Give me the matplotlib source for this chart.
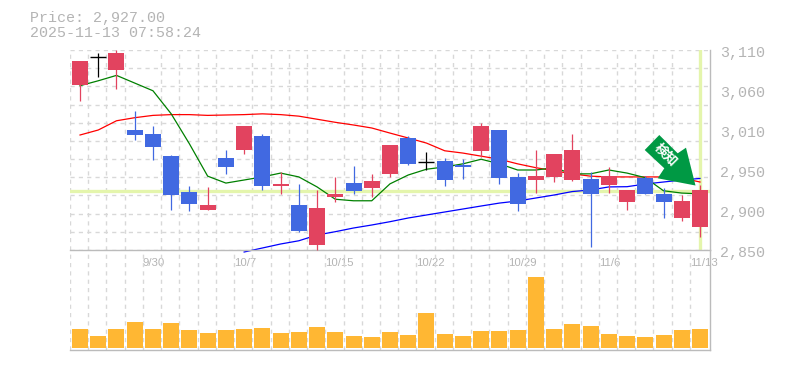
import numpy as np
from matplotlib import pyplot as plt
from matplotlib.patches import Polygon
from matplotlib.transforms import Affine2D

plt.rcParams['font.family'] = ['Liberation Mono', 'DejaVu Sans Mono']

# Data
opens = [3064.5, 3100.5, 3084, 3006, 3000.8, 2972, 2925.4, 2902, 2969.6, 2980, 2998, 2933, 2908.5, 2856.5, 2918.9,
         2937, 2930.6, 2948.8, 2995.6, 2964, 2965.7, 2960.5, 2978.7, 3006, 2944.9, 2941, 2944.9, 2941, 2942.3,
         2934.5, 2912.4, 2943.6, 2922.8, 2891.6, 2879.9]
closes = [3095.7, 3100.5, 3106, 2999.5, 2983.9, 2921.5, 2909.8, 2908.5, 2957.9, 3011, 2933, 2935.8, 2874.7, 2904.6, 2922.8,
          2926.7, 2939.7, 2986.5, 2961.8, 2964, 2941, 2957.9, 3011, 2943.6, 2909.8, 2946.2, 2974.8, 2980, 2922.8,
          2946.2, 2928, 2922.8, 2912.4, 2913.7, 2928]
highs = [3095.7, 3105.7, 3110, 3030.7, 3011, 2973.5, 2933, 2932, 2980, 3011, 3000.8, 2951, 2935.8, 2928, 2944.9,
         2959, 2948.8, 2986.5, 2998, 2977.4, 2969.6, 2968.3, 3015, 3006, 2950, 2980, 2974.8, 3000.8, 2951,
         2957.9, 2928, 2946.2, 2930.6, 2921.5, 2934.5]
lows = [3044, 3075.3, 3059.7, 2993, 2967, 2902, 2901, 2902, 2948.8, 2974.8, 2928, 2922.8, 2873.4, 2850, 2912.4,
        2922.8, 2918.9, 2944.9, 2960.5, 2954, 2933, 2942.3, 2970.9, 2935.8, 2900.7, 2924, 2938.4, 2939.7, 2854,
        2924, 2902, 2922.8, 2891.6, 2887.7, 2866.9]

ma_short = [3063.6, 3070, 3077, 3067, 3057, 3027, 2988, 2946, 2937, 2941, 2945, 2950, 2945, 2932, 2916, 2914, 2914,
            2936, 2947.5, 2955, 2958, 2962, 2968, 2962, 2954, 2954, 2957, 2949, 2949, 2954, 2950, 2944, 2927, 2924, 2923]
ma_mid = [2999.5, 3006, 3018, 3022, 3025, 3026, 3026, 3025, 3025.5, 3026, 3027, 3026, 3024, 3020, 3016, 3012.5, 3008.6,
          3002, 2995.6, 2989, 2979, 2976, 2972, 2968, 2962, 2957, 2953, 2949, 2946, 2945, 2945, 2945, 2945, 2943.6, 2938.4]
ma_long = [np.nan] * 9 + [2847.4, 2852.6, 2857.8, 2862, 2869.5, 2873.8, 2878.6, 2882.5, 2886.8, 2891.6, 2895.5, 2899.4,
                          2903.3, 2907.2, 2911, 2913.7, 2917.6, 2921.5, 2926, 2928, 2932, 2932.3, 2935.8, 2938.4, 2941, 2943]

volumes = [19, 12, 19, 26, 19, 25, 18, 15, 18, 19, 20, 15, 16, 21, 16, 12, 11, 16,
           13, 35, 14, 12, 17, 17, 18, 71, 19, 24, 22, 14, 12, 11, 13, 18, 19]

date_pos = [4, 9, 14, 19, 24, 29, 34]
date_labels = ['9/30', '10/7', '10/15', '10/22', '10/29', '11/6', '11/13']
price_ticks = [2850, 2902, 2954, 3006, 3058, 3110]
price_labels = ['2,850', '2,900', '2,950', '3,010', '3,060', '3,110']
last_price = 2927

W, H = 785, 370
UP = '#E2435F'
DOWN = '#4169E1'
GRID = '#D8D8D8'
AXIS = '#BBBBBB'
TEXT = '#B4B4B4'
LIME = '#E4F5AC'
dash = (0, (3, 3))
x = np.arange(len(opens))
edge = 0.55  # room left of the first candle, in candle steps
bar_w = 16 / (640 / 35.1)

fig = plt.figure(figsize=(W / 100, H / 100), dpi=100)
ax = fig.add_axes([70 / W, (H - 250) / H, 640 / W, 200 / H])
vol = fig.add_axes([70 / W, (H - 350) / H, 640 / W, 100 / H])

# Price panel
ax.set_xlim(-edge, 34 + edge)
ax.set_ylim(2850, 3110)
ax.set_axisbelow(True)
ax.set_xticks(np.array(date_pos) - edge)
ax.set_xticklabels(date_labels, fontsize=8.2, color=TEXT, ha='left', family='Liberation Sans')
ax.set_xticks(x - edge, minor=True)
ax.set_yticks([])
ax.set_yticks(np.linspace(2850, 3110, 12), minor=True)
ax.tick_params(axis='both', which='both', length=0)
ax.tick_params(axis='x', pad=5.5)
ax.grid(True, which='minor', color=GRID, lw=1, linestyle=dash)
for s in ['left', 'top']:
    ax.spines[s].set_visible(False)
for s in ['right', 'bottom']:
    ax.spines[s].set_color(AXIS)
    ax.spines[s].set_linewidth(1)

# right hand labels sit 3px under their level
for p, lab in zip(price_ticks, price_labels):
    ax.annotate(lab, xy=(1, p), xycoords=('axes fraction', 'data'), xytext=(10, -3), textcoords='offset pixels',
                fontsize=10.8, color=TEXT, va='center', ha='left', annotation_clip=False)

ax.axhline(last_price, color=LIME, lw=2.4, zorder=1.5)
ax.axvline(34, color=LIME, lw=2.4, zorder=1.5)

ax.plot(x, ma_mid, color='#FF0000', lw=0.9, zorder=2)
ax.plot(x, ma_long, color='#0000FF', lw=0.9, zorder=2, clip_on=False)
ax.plot(x, ma_short, color='#008000', lw=0.9, zorder=2)

for i in x:
    o, c = opens[i], closes[i]
    if o == c:
        ax.vlines(i, lows[i], highs[i], color='black', lw=0.9, zorder=3)
        ax.hlines(o, i - bar_w / 2, i + bar_w / 2, color='black', lw=1, zorder=3)
        continue
    col = UP if c > o else DOWN
    ax.vlines(i, lows[i], highs[i], color=col, lw=0.9, zorder=3, clip_on=False)
    ax.bar(i, abs(c - o), bottom=min(o, c), width=bar_w, color=col, zorder=3.1)

# Volume panel
vol.bar(x, volumes, width=bar_w, color='#FFB733', zorder=3)
vol.set_xlim(-edge, 34 + edge)
vol.set_ylim(-2, 98)
vol.set_axisbelow(True)
vol.set_yticks([])
vol.set_xticks(x - edge)
vol.set_xticklabels([])
vol.tick_params(axis='x', length=0)
vol.grid(True, axis='x', color=GRID, lw=1, linestyle=dash)
for s in ['left', 'top']:
    vol.spines[s].set_visible(False)
for s in ['right', 'bottom']:
    vol.spines[s].set_color(AXIS)
    vol.spines[s].set_linewidth(1)
vol.patch.set_alpha(0)

# Header text
fig.text(30 / W, 1 - 18 / H, 'Price: 2,927.00', fontsize=10.8, color=TEXT, va='center')
fig.text(30 / W, 1 - 33 / H, '2025-11-13 07:58:24', fontsize=10.8, color=TEXT, va='center')

# Signal arrow, in pixels from the top left of the picture
to_px = Affine2D().scale(1, -1).translate(0, H)
arrow = [(659.3, 135), (644.7, 150), (664.3, 168.3), (657.7, 178.3), (695.5, 185.5), (686, 147.7), (677.7, 153.3)]
fig.add_artist(Polygon(arrow, closed=True, facecolor='#009944', edgecolor='none', transform=to_px, zorder=6))
fig.text(666 / W, 1 - 155 / H, '検知', family=['Noto Sans CJK JP', 'DejaVu Sans'], fontsize=9.5, weight='bold',
         color='white', rotation=-45, ha='center', va='center', rotation_mode='anchor', zorder=7)

fig.savefig('out.png', dpi=100)
